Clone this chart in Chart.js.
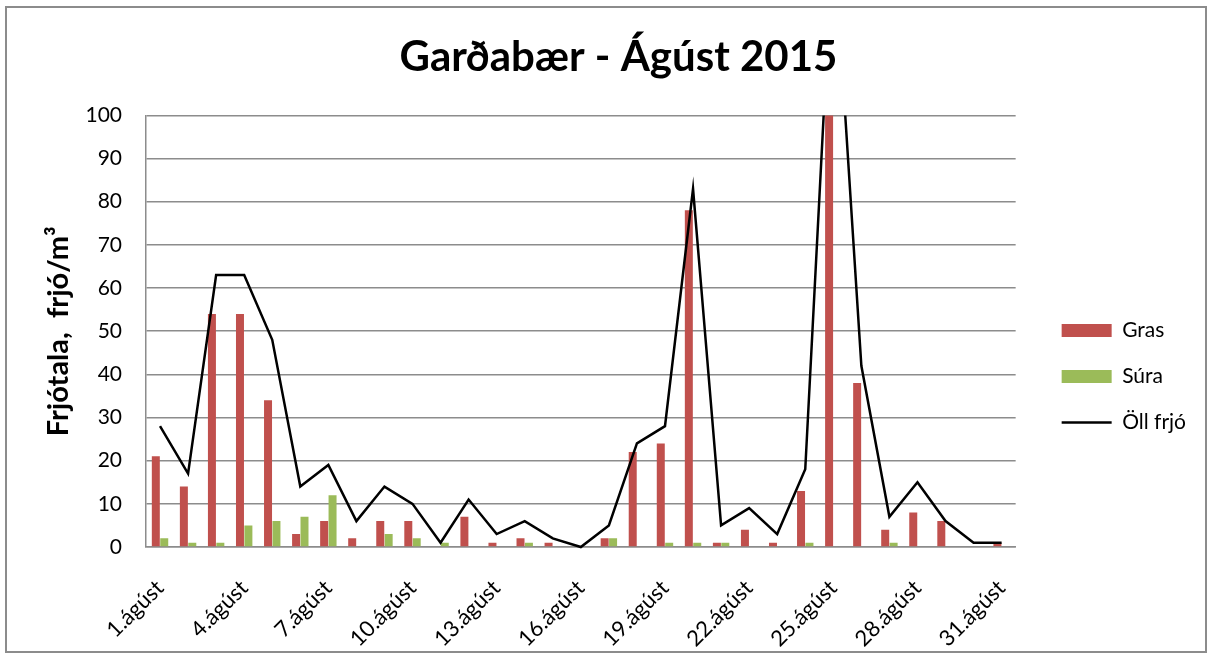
<!DOCTYPE html>
<html>
<head>
<meta charset="utf-8">
<script src="https://cdn.jsdelivr.net/npm/chart.js@4/dist/chart.umd.min.js"></script>
<style>
    body { margin: 0; background: #fff; }
    #frame {
        position: absolute; left: 5px; top: 6px;
        width: 1202px; height: 647px;
        border: 2px solid #8c8c8c; box-sizing: border-box;
    }
    #frame canvas { display: block; }
</style>
</head>
<body>
<div id="frame"><canvas id="pollenChart" width="1198" height="643"></canvas></div>
<script>
var days = [];
for (var d = 1; d <= 31; d++) {
    days.push(d + '.ágúst');
}

// Frjótala per dag, ágúst 2015
var gras = [21, 14, 54, 54, 34, 3, 6, 2, 6, 6, 0, 7, 1, 2, 1, 0, 2, 22, 24, 78, 1, 4, 1, 13, 136, 38, 4, 8, 6, 0, 1];
var sura = [2, 1, 1, 5, 6, 7, 12, 0, 3, 2, 1, 0, 0, 1, 0, 0, 2, 0, 1, 1, 1, 0, 0, 1, 0, 0, 1, 0, 0, 0, 0];
var ollFrjo = [28, 17, 63, 63, 48, 14, 19, 6, 14, 10, 1, 11, 3, 6, 2, 0, 5, 24, 28, 83, 5, 9, 3, 18, 143, 42, 7, 15, 6, 1, 1];

var yTicks = [0, 10, 20, 30, 40, 50, 60, 70, 80, 90, 100];

var font = 'Lato, "Open Sans", sans-serif';
var areaClip = { left: 10, right: 10, top: 0, bottom: 10 };

// bil milli teikniflatar og skýringa, og lóðrétt hliðrun skýringa
var legendGap = 21;
var legendShift = 47;

var legendPlacement = {
    id: 'legendPlacement',
    beforeLayout: function (chart) {
        var legend = chart.legend;
        if (legend && !legend._gapWrapped) {
            var fit = legend.fit;
            legend.fit = function () {
                fit.call(this);
                this.width += legendGap;
            };
            legend._gapWrapped = true;
        }
    },
    afterLayout: function (chart) {
        var legend = chart.legend;
        legend.left += legendGap;
        legend.top += legendShift;
        legend.bottom += legendShift;
    }
};

function renderPollenChart() {
    var ctx = document.getElementById('pollenChart').getContext('2d');

    new Chart(ctx, {
        type: 'bar',
        data: {
            labels: days,
            datasets: [{
                label: 'Gras',
                data: gras,
                backgroundColor: '#c0504d',
                categoryPercentage: 0.6,
                barPercentage: 0.95,
                clip: areaClip
            }, {
                label: 'Súra',
                data: sura,
                backgroundColor: '#9bbb59',
                categoryPercentage: 0.6,
                barPercentage: 0.95,
                clip: areaClip
            }, {
                type: 'line',
                label: 'Öll frjó',
                data: ollFrjo,
                borderColor: '#000000',
                backgroundColor: '#000000',
                borderWidth: 2.5,
                pointRadius: 0,
                tension: 0,
                order: -1,
                clip: areaClip
            }]
        },
        plugins: [legendPlacement],
        options: {
            responsive: false,
            animation: false,
            layout: {
                padding: { left: 34, right: 9, top: 0, bottom: 0 }
            },
            plugins: {
                title: {
                    display: true,
                    text: 'Garðabær - Ágúst 2015',
                    color: '#000',
                    font: { family: font, size: 42, weight: 'bold' },
                    padding: { top: 24, bottom: 33 }
                },
                legend: {
                    position: 'right',
                    labels: {
                        color: '#000',
                        font: { family: font, size: 21 },
                        usePointStyle: true,
                        pointStyleWidth: 50,
                        boxHeight: 13,
                        padding: 25,
                        generateLabels: function (chart) {
                            var items = Chart.defaults.plugins.legend.labels.generateLabels(chart);
                            items.forEach(function (item) {
                                item.pointStyle = item.datasetIndex === 2 ? 'line' : 'rect';
                                if (item.datasetIndex !== 2) item.lineWidth = 0;
                            });
                            return items;
                        },
                        sort: function (a, b) { return a.datasetIndex - b.datasetIndex; }
                    }
                },
                tooltip: { enabled: false }
            },
            scales: {
                x: {
                    grid: { display: false, drawTicks: false },
                    border: { color: '#8c8c8c', width: 1.5 },
                    afterFit: function (axis) {
                        axis.paddingLeft = 0;
                        axis.paddingRight = 0;
                        axis.height = 104;
                    },
                    ticks: {
                        autoSkip: false,
                        maxRotation: 45,
                        minRotation: 45,
                        padding: 28,
                        color: '#000',
                        font: { family: font, size: 22 },
                        callback: function (value, index) {
                            return index % 3 === 0 ? days[index] : '';
                        }
                    }
                },
                y: {
                    min: 0,
                    max: 100,
                    afterBuildTicks: function (axis) {
                        axis.ticks = yTicks.map(function (v) { return { value: v }; });
                    },
                    afterFit: function (axis) {
                        axis.width = 105;
                    },
                    grid: { color: '#8c8c8c', lineWidth: 1.5, drawTicks: false },
                    border: { color: '#8c8c8c', width: 1.5 },
                    ticks: {
                        padding: 24,
                        color: '#000',
                        font: { family: font, size: 21 }
                    },
                    title: {
                        display: true,
                        text: 'Frjótala,  frjó/m³',
                        color: '#000',
                        font: { family: font, size: 29, weight: 'bold' },
                        padding: { top: 0, bottom: 9 }
                    }
                }
            }
        }
    });
}

renderPollenChart();
</script>
</body>
</html>
